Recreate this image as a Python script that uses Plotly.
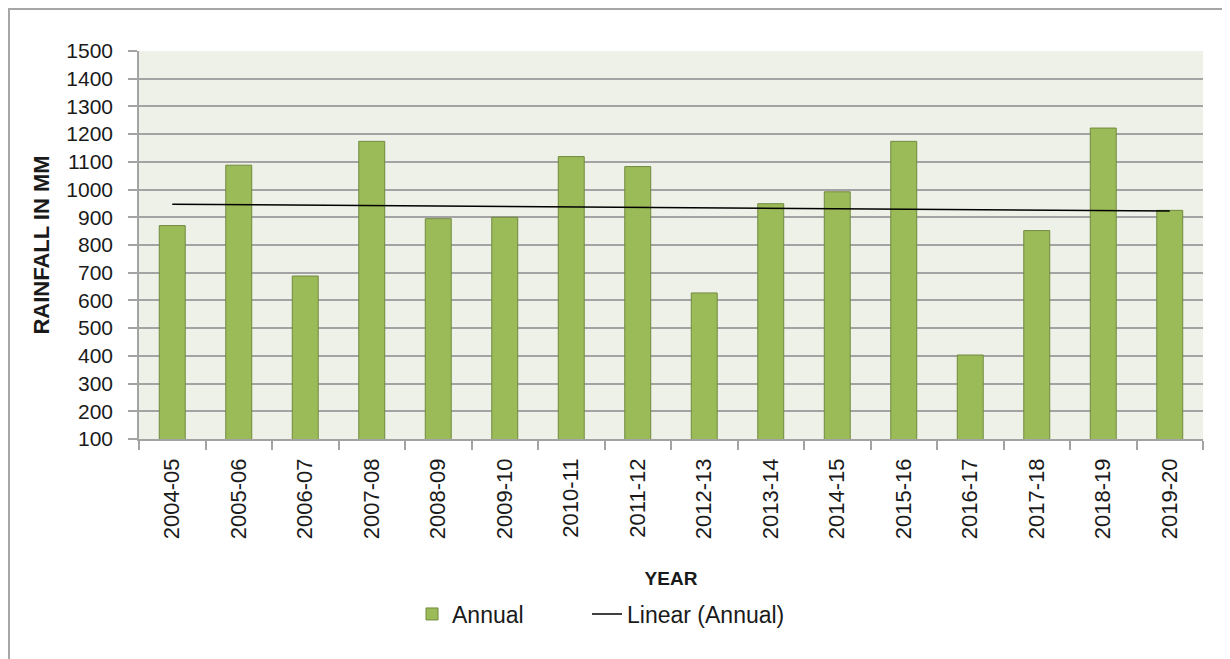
import numpy as np
import plotly.graph_objects as go

years = ["2004-05", "2005-06", "2006-07", "2007-08", "2008-09", "2009-10", "2010-11", "2011-12",
         "2012-13", "2013-14", "2014-15", "2015-16", "2016-17", "2017-18", "2018-19", "2019-20"]
annual = [870, 1088, 688, 1174, 895, 900, 1119, 1083, 627, 949, 992, 1174, 403, 852, 1222, 925]

idx = np.arange(len(annual))
slope, intercept = np.polyfit(idx, annual, 1)
trend = slope * idx + intercept

FONT = "Liberation Sans, Arial, sans-serif"
GRID = "#A3A3A3"

fig = go.Figure()
fig.add_trace(go.Bar(
    x=years, y=annual, name="Annual", legendwidth=130,
    marker=dict(color="#9BBB59", line=dict(color="#71893F", width=1)),
))
fig.add_trace(go.Scatter(
    x=years, y=trend, name="Linear (Annual)", mode="lines", legendwidth=175,
    line=dict(color="#000000", width=1.5),
))

fig.update_layout(
    width=1222, height=651,
    margin=dict(l=131, r=27, t=43, b=220, autoexpand=False),
    paper_bgcolor="white",
    plot_bgcolor="#EEF1E7",
    bargap=0.61,
    font=dict(family=FONT, size=21, color="#1A1A1A"),
    showlegend=True,
    legend=dict(orientation="h", x=0.2566, xanchor="left", y=-0.451, yanchor="middle",
                font=dict(size=23), bgcolor="rgba(0,0,0,0)", traceorder="normal"),
    xaxis=dict(
        type="category", tickangle=-90, tickson="boundaries",
        ticks="outside", ticklen=9, tickcolor=GRID, tickwidth=1.5,
        showline=True, linecolor=GRID, linewidth=1.5,
        showgrid=False, ticklabelstandoff=9, tickfont=dict(size=22),
        title=dict(text="<b>YEAR</b>", font=dict(size=19), standoff=33),
        range=[-0.5, 15.5], automargin=False,
    ),
    yaxis=dict(
        range=[100, 1500], tick0=100, dtick=100,
        ticks="outside", ticklen=9, tickcolor=GRID, tickwidth=1.5,
        showline=True, linecolor=GRID, linewidth=1.5,
        showgrid=True, gridcolor=GRID, gridwidth=1.5,
        zeroline=False, ticklabelstandoff=11,
        title=dict(text="<b>RAINFALL IN MM</b>", font=dict(size=22), standoff=11),
        automargin=False,
    ),
    shapes=[dict(type="rect", xref="paper", yref="paper",
                 x0=-0.1222, x1=1.05, y0=-0.62, y1=1.1082,
                 line=dict(color="#A6A6A6", width=2), fillcolor="rgba(0,0,0,0)", layer="below")],
)

fig.write_html("out.html")
